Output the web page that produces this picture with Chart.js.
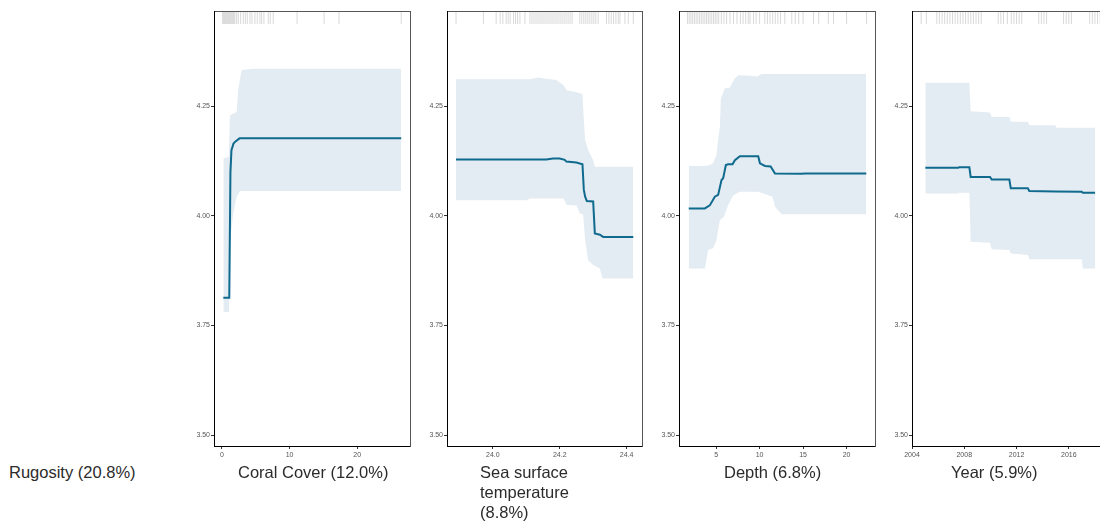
<!DOCTYPE html>
<html>
<head>
<meta charset="utf-8">
<script src="https://cdn.jsdelivr.net/npm/chart.js@4.4.0/dist/chart.umd.min.js"></script>
<style>
    html, body { margin: 0; padding: 0; background: #fff; width: 1100px; height: 523px; overflow: hidden; position: relative; }
    canvas { position: absolute; top: 0; }
    .lbl { position: absolute; top: 462px; font-family: "Liberation Sans", Arial, sans-serif; font-size: 16.5px; line-height: 20px; color: #2b2b2b; white-space: nowrap; }
</style>
</head>
<body>
<div class="lbl" style="left:9px">Rugosity (20.8%)</div>
<canvas id="c1" width="232" height="470" style="left:180px"></canvas>
<canvas id="c2" width="231" height="470" style="left:413px"></canvas>
<canvas id="c3" width="232" height="470" style="left:645px"></canvas>
<canvas id="c4" width="232" height="470" style="left:878px"></canvas>
<div class="lbl" style="left:238px">Coral Cover (12.0%)</div>
<div class="lbl" style="left:480px">Sea surface<br>temperature<br>(8.8%)</div>
<div class="lbl" style="left:724px">Depth (6.8%)</div>
<div class="lbl" style="left:951px">Year (5.9%)</div>
<script>
// 共通の縦軸
const yTicks = [3.50, 3.75, 4.00, 4.25];
const yMin = 3.475;
const yMax = 4.4676;
const rugY = 4.4516;

// Coral Cover
const coralTicks = [0, 10, 20];
const coralFit = [[0.2, 3.813], [1.08, 3.813], [1.25, 4.10], [1.4, 4.150], [1.7, 4.165], [2.0, 4.170], [2.6, 4.177], [26.5, 4.177]];
const coralHi = [[0.2, 4.131], [1.0, 4.135], [1.18, 4.23], [2.17, 4.237], [2.4, 4.29], [2.56, 4.302], [2.9, 4.333], [4.6, 4.336], [26.5, 4.336]];
const coralLo = [[0.2, 3.781], [1.05, 3.781], [1.18, 3.94], [1.67, 4.006], [2.17, 4.044], [2.66, 4.057], [26.5, 4.057]];
const coralRug = [0.1, 0.25, 0.4, 0.55, 0.7, 0.85, 1.0, 1.15, 1.3, 1.45, 1.6, 1.75, 1.9, 2.17, 2.41, 2.76, 3.15, 3.45, 3.74, 4.14, 4.43, 4.87, 5.22, 5.61, 5.86, 6.2, 6.84, 7.14, 7.58, 11.1, 15.1, 17.3, 26.5];

// Sea surface temperature
const sstTicks = [24.0, 24.2, 24.4];
const sstFit = [[23.89, 4.129], [24.16, 4.129], [24.18, 4.131], [24.20, 4.131], [24.215, 4.128], [24.22, 4.124], [24.25, 4.122], [24.268, 4.118], [24.272, 4.06], [24.276, 4.044], [24.281, 4.034], [24.30, 4.033], [24.305, 3.96], [24.32, 3.957], [24.33, 3.952], [24.42, 3.952]];
const sstHi = [[23.89, 4.312], [24.11, 4.312], [24.136, 4.316], [24.16, 4.313], [24.19, 4.310], [24.211, 4.299], [24.221, 4.286], [24.241, 4.284], [24.268, 4.278], [24.272, 4.22], [24.276, 4.173], [24.285, 4.150], [24.30, 4.127], [24.305, 4.112], [24.42, 4.112]];
const sstLo = [[23.89, 4.036], [24.10, 4.036], [24.111, 4.040], [24.211, 4.040], [24.221, 4.025], [24.251, 4.024], [24.259, 4.006], [24.270, 4.003], [24.276, 3.945], [24.285, 3.899], [24.300, 3.888], [24.320, 3.880], [24.328, 3.857], [24.42, 3.857]];
const sstRug = [23.89, 23.972, 24.01, 24.022, 24.03, 24.04, 24.046, 24.052, 24.062, 24.068, 24.074, 24.081, 24.096,
    24.111, 24.117, 24.123, 24.129, 24.135, 24.141, 24.147, 24.153, 24.159, 24.165, 24.171, 24.177, 24.183, 24.189,
    24.195, 24.201, 24.207, 24.213, 24.219, 24.225, 24.231, 24.237, 24.26, 24.266, 24.272, 24.278, 24.284, 24.29,
    24.296, 24.302, 24.308, 24.315, 24.34, 24.347, 24.354, 24.361, 24.368, 24.375, 24.38, 24.395, 24.405, 24.42];

// Depth
const depthTicks = [5, 10, 15, 20];
const depthFit = [[1.85, 4.017], [3.70, 4.017], [4.27, 4.024], [4.85, 4.044], [5.23, 4.048], [5.62, 4.082], [5.81, 4.086], [6.12, 4.116], [6.38, 4.118], [6.89, 4.118], [7.16, 4.127], [7.73, 4.136], [9.84, 4.136], [10.04, 4.120], [10.62, 4.114], [11.27, 4.113], [11.77, 4.097], [14.85, 4.096], [15.2, 4.097], [22.27, 4.097]];
const depthHi = [[1.85, 4.114], [3.70, 4.114], [4.27, 4.116], [4.65, 4.120], [5.04, 4.139], [5.23, 4.173], [5.43, 4.203], [5.54, 4.268], [6.0, 4.291], [6.58, 4.293], [7.16, 4.314], [7.54, 4.321], [8.89, 4.320], [9.73, 4.318], [10.23, 4.324], [22.27, 4.324]];
const depthLo = [[1.85, 3.880], [3.70, 3.880], [4.08, 3.922], [4.65, 3.926], [5.04, 3.945], [5.43, 3.990], [5.89, 3.998], [6.38, 4.025], [6.96, 4.047], [7.73, 4.055], [9.84, 4.055], [11.0, 4.047], [11.5, 4.044], [11.77, 4.021], [12.54, 4.004], [22.27, 4.004]];
const depthRug = [1.7, 1.9, 2.1, 2.3, 2.5, 2.7, 2.9, 3.1, 3.3, 3.5, 3.7, 3.9, 4.1, 4.3, 4.5, 4.7, 4.9, 5.1, 5.3, 5.6,
    5.9, 6.2, 6.6, 7.0, 7.4, 7.8, 8.1, 8.4, 8.7, 8.9, 9.3, 9.6, 10.0, 10.6, 10.9, 11.2, 11.5, 11.8, 12.1, 12.4, 12.9,
    13.7, 14.1, 14.5, 15.0, 16.2, 16.8, 17.9, 18.5, 20.0, 22.3];

// Year
const yearTicks = [2004, 2008, 2012, 2016];
const yearFit = [[2005.02, 4.110], [2007.55, 4.110], [2007.6, 4.111], [2008.39, 4.111], [2008.49, 4.089], [2009.97, 4.089], [2010.10, 4.083], [2011.45, 4.083], [2011.56, 4.063], [2012.86, 4.063], [2012.98, 4.057], [2014.95, 4.056], [2016.99, 4.055], [2017.07, 4.053], [2018.01, 4.053]];
const yearHi = [[2005.02, 4.304], [2008.39, 4.304], [2008.49, 4.239], [2009.97, 4.236], [2010.10, 4.226], [2011.45, 4.226], [2011.56, 4.215], [2012.86, 4.215], [2012.98, 4.207], [2014.95, 4.207], [2015.08, 4.201], [2018.01, 4.201]];
const yearLo = [[2005.02, 4.051], [2007.55, 4.051], [2007.6, 4.053], [2008.39, 4.053], [2008.49, 3.941], [2009.97, 3.939], [2010.10, 3.924], [2011.45, 3.922], [2011.56, 3.914], [2012.86, 3.911], [2012.98, 3.901], [2016.99, 3.901], [2017.07, 3.880], [2018.01, 3.880]];
const yearRug = [2004.7, 2005.1, 2005.9, 2006.1, 2006.3, 2006.5, 2006.7, 2006.9, 2007.1, 2007.3, 2007.5, 2007.7, 2007.9,
    2008.1, 2008.3, 2008.5, 2008.7, 2008.9, 2009.1, 2009.3, 2010.6, 2010.8, 2011.0, 2011.3, 2011.6, 2011.8, 2012.0,
    2012.2, 2012.4, 2013.7, 2013.9, 2014.1, 2014.3, 2015.6, 2015.8, 2016.0, 2016.2, 2017.6, 2017.8, 2018.0, 2018.2, 2018.4];

const lineColor = '#0f6a8e';
const bandColor = '#e3ecf2';
const rugColor = 'rgba(185, 185, 185, 0.55)';
const tickFont = { family: '"Liberation Sans", Arial, sans-serif', size: 7 };

function toPts(arr) {
    return arr.map(p => ({ x: p[0], y: p[1] }));
}

/**
 * 1枚のパネルを描く
 */
function makePanel(id, p) {
    new Chart(document.getElementById(id), {
        type: 'line',
        data: {
            datasets: [
                { data: toPts(p.fit), borderColor: lineColor, borderWidth: 2, pointRadius: 0, fill: false, tension: 0 },
                { data: p.rug.map(x => ({ x: x, y: rugY })), showLine: false, pointStyle: 'line', pointRotation: 90,
                  pointRadius: 6, pointBorderColor: rugColor, pointBorderWidth: 1, pointBackgroundColor: rugColor },
                { data: toPts(p.hi), borderColor: 'rgba(0,0,0,0)', borderWidth: 0, pointRadius: 0, fill: '+1', backgroundColor: bandColor },
                { data: toPts(p.lo), borderColor: 'rgba(0,0,0,0)', borderWidth: 0, pointRadius: 0, fill: false }
            ]
        },
        options: {
            responsive: false,
            devicePixelRatio: 1,
            animation: false,
            events: [],
            layout: { padding: { top: 11, right: 2, left: 0, bottom: 0 }, autoPadding: false },
            plugins: { legend: { display: false }, tooltip: { enabled: false } },
            scales: {
                x: {
                    type: 'linear', position: 'bottom', min: p.xMin, max: p.xMax,
                    afterBuildTicks: s => { s.ticks = p.ticks.map(v => ({ value: v })); },
                    ticks: { font: tickFont, color: '#555', padding: 2, maxRotation: 0, autoSkip: false, callback: p.fmt },
                    grid: { display: true, drawOnChartArea: false, drawTicks: true, tickLength: 3, tickColor: '#333' },
                    border: { display: true, color: '#000', width: 1 },
                    afterFit: s => { s.height = 24; }
                },
                x2: {
                    type: 'linear', position: 'top', min: p.xMin, max: p.xMax,
                    ticks: { display: false }, grid: { display: false, drawTicks: false },
                    border: { display: true, color: '#555', width: 1 },
                    afterFit: s => { s.height = 0; }
                },
                y: {
                    type: 'linear', position: 'left', min: yMin, max: yMax,
                    afterBuildTicks: s => { s.ticks = yTicks.map(v => ({ value: v })); },
                    ticks: { font: tickFont, color: '#555', padding: 1, callback: v => v.toFixed(2) },
                    grid: { display: true, drawOnChartArea: false, drawTicks: true, tickLength: 3, tickColor: '#333' },
                    border: { display: true, color: '#000', width: 1 },
                    afterFit: s => { s.width = 34; }
                },
                y2: {
                    type: 'linear', position: 'right', min: yMin, max: yMax,
                    ticks: { display: false }, grid: { display: false, drawTicks: false },
                    border: { display: true, color: '#555', width: 1 },
                    afterFit: s => { s.width = 0; }
                }
            }
        }
    });
}

makePanel('c1', { fit: coralFit, hi: coralHi, lo: coralLo, rug: coralRug, ticks: coralTicks, xMin: -1.18, xMax: 27.8, fmt: v => String(v) });
makePanel('c2', { fit: sstFit, hi: sstHi, lo: sstLo, rug: sstRug, ticks: sstTicks, xMin: 23.863, xMax: 24.446, fmt: v => v.toFixed(1) });
makePanel('c3', { fit: depthFit, hi: depthHi, lo: depthLo, rug: depthRug, ticks: depthTicks, xMin: 0.73, xMax: 23.27, fmt: v => String(v) });
makePanel('c4', { fit: yearFit, hi: yearHi, lo: yearLo, rug: yearRug, ticks: yearTicks, xMin: 2004, xMax: 2019.0, fmt: v => String(v) });
</script>
</body>
</html>
